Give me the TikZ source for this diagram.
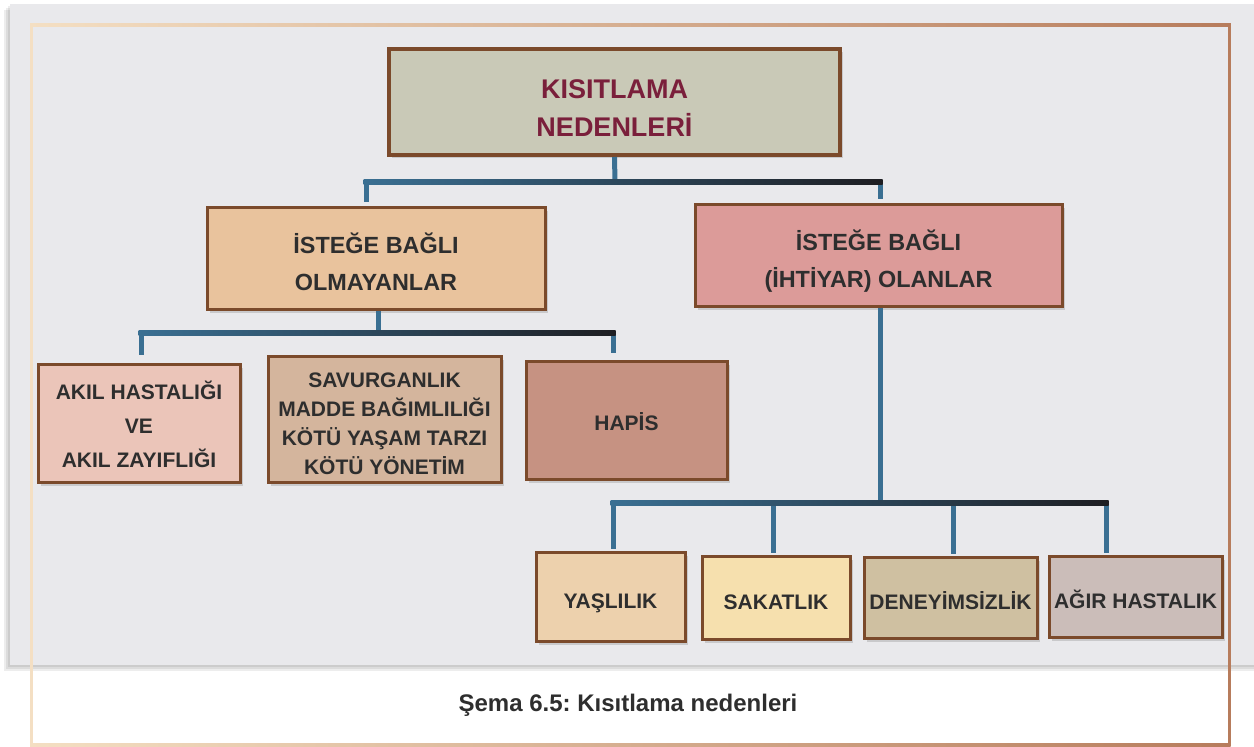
\documentclass[tikz,border=0pt]{standalone}
\usepackage{fontspec}
\setmainfont{Liberation Sans}
\frenchspacing
\usetikzlibrary{calc,shadows}
\definecolor{panel}{HTML}{E9E9EC}
\definecolor{bark}{HTML}{7B4A2B}
\definecolor{ink}{HTML}{2E2E2E}
\definecolor{wine}{HTML}{7A1F3B}
\definecolor{wire}{HTML}{3A6F92}
\definecolor{wiredark}{HTML}{1E1E22}
\definecolor{framelight}{HTML}{F4DFC3}
\definecolor{framedark}{HTML}{B77C5C}
\definecolor{sage}{HTML}{C9C9B7}
\definecolor{apricot}{HTML}{E9C39D}
\definecolor{rose}{HTML}{DC9B99}
\definecolor{blush}{HTML}{EBC5B9}
\definecolor{tan}{HTML}{D4B59D}
\definecolor{clay}{HTML}{C69282}
\definecolor{sand}{HTML}{EDD1AD}
\definecolor{cream}{HTML}{F6E0AE}
\definecolor{khaki}{HTML}{CFC0A1}
\definecolor{taupe}{HTML}{CBBDB9}
\tikzset{
  box/.style={rectangle, draw=bark, line width=1.5pt, inner sep=0pt, align=center, text=ink,
              font=\fontsize{10.5}{17}\selectfont\bfseries,
              drop shadow={shadow xshift=1.5pt, shadow yshift=-1.5pt, opacity=0.3}},
  rootbox/.style={box, fill=sage, line width=2pt, text=wine, text height=34.7pt, text depth=0pt,
                  font=\fontsize{13.5}{19}\selectfont\bfseries},
  midbox/.style={box, text height=31.4pt, text depth=0pt, font=\fontsize{11.7}{18.5}\selectfont\bfseries},
  leafbox/.style={box},
  onebox/.style={box, text height=11.5pt, text depth=0pt},
  wire/.style={draw=wire, line width=2.5pt},
  bar/.style={left color=wire, right color=wiredark},
  caption/.style={font=\fontsize{12}{14}\selectfont\bfseries, text=ink}
}
\begin{document}
\begin{tikzpicture}[x=0.5pt, y=-0.5pt]
 \useasboundingbox (0,0) rectangle (1254,747);
 \fill[white] (0,0) rectangle (1254,747);
 % panel with soft shadow
 \foreach \d in {6,4,2} \fill[black, opacity=0.07] (10-\d,4+\d) rectangle (1254,665+\d);
 \fill[panel] (10,4) rectangle (1254,665);
 % frame
 \shade[left color=framelight, right color=framedark] (30,23.5) rectangle (1230.5,26.5);
 \shade[left color=framelight, right color=framedark] (30,743.5) rectangle (1230.5,746.5);
 \fill[framelight] (29.5,23.5) rectangle (32.5,746.5);
 \fill[framedark] (1227.5,23.5) rectangle (1230.5,746.5);

 \node[rootbox, minimum width=225.5pt, minimum height=53pt] (root) at (614.5,102) {KISITLAMA\\NEDENLERİ};
 \node[midbox, fill=apricot, minimum width=169pt, minimum height=51pt] (nonopt) at (376,259) {İSTEĞE BAĞLI\\OLMAYANLAR};
 \node[midbox, fill=rose, minimum width=183.5pt, minimum height=51pt] (opt) at (878.5,256) {İSTEĞE BAĞLI\\(İHTİYAR) OLANLAR};

 \node[leafbox, fill=blush, minimum width=101pt, minimum height=59pt] (mind) at (139,424) {AKIL HASTALIĞI\\VE\\AKIL ZAYIFLIĞI};
 \node[leafbox, fill=tan, minimum width=116.5pt, minimum height=63pt, text height=55pt, text depth=0pt, font=\fontsize{10.5}{14.5}\selectfont\bfseries] (waste) at (384.5,420) {SAVURGANLIK\\MADDE BAĞIMLILIĞI\\KÖTÜ YAŞAM TARZI\\KÖTÜ YÖNETİM};
 \node[onebox, fill=clay, minimum width=100.5pt, minimum height=59pt, text height=9.5pt] (jail) at (626.5,421) {HAPİS};

 \node[onebox, fill=sand, minimum width=74.5pt, minimum height=44.5pt] (age) at (610.5,597.5) {YAŞLILIK};
 \node[onebox, fill=cream, minimum width=74pt, minimum height=41.5pt] (disab) at (776,598.5) {SAKATLIK};
 \node[onebox, fill=khaki, minimum width=86.5pt, minimum height=40.5pt] (inexp) at (950.5,598.5) {DENEYİMSİZLİK};
 \node[onebox, fill=taupe, minimum width=86.5pt, minimum height=40.5pt] (ill) at (1135.5,597.5) {AĞIR HASTALIK};

 \node[caption] (cap) at (628,705) {Şema 6.5: Kısıtlama nedenleri};

 % junctions
 \coordinate (j1) at (615,182); \coordinate (j1l) at (366,182); \coordinate (j1r) at (880,182);
 \coordinate (j2) at (378,333); \coordinate (j2l) at (141,333); \coordinate (j2r) at (613,333);
 \coordinate (j3) at (880,503); \coordinate (j3l) at (613,503); \coordinate (j3r) at (1106,503);

 \draw[wire] (root.south) -- (j1);
 \draw[wire] (j1l) -- ($(nonopt.north -| j1l)+(0,-4)$);
 \draw[wire] (j1r) -- ($(opt.north -| j1r)+(0,-4)$);
 \shade[bar] ($(j1l)+(-2.5,-2.5)$) rectangle ($(j1r)+(2.5,2.5)$);

 \draw[wire] (nonopt.south -| j2) -- (j2);
 \draw[wire] (j2l) -- ($(mind.north -| j2l)+(0,-8)$);
 \draw[wire] (j2r) -- ($(jail.north -| j2r)+(0,-7)$);
 \shade[bar] ($(j2l)+(-2.5,-2.5)$) rectangle ($(j2r)+(2.5,2.5)$);

 \draw[wire] (opt.south -| j3) -- (j3);
 \draw[wire] (j3l) -- ($(age.north -| j3l)+(0,-2)$);
 \draw[wire] (j3l -| disab.north) ++(-3,0) -- ($(disab.north)+(-3,-2)$);
 \draw[wire] (j3l -| inexp.north) ++(2.5,0) -- ($(inexp.north)+(2.5,-2)$);
 \draw[wire] (j3r) -- ($(ill.north -| j3r)+(0,-2)$);
 \shade[bar] ($(j3l)+(-2.5,-2.5)$) rectangle ($(j3r)+(2.5,2.5)$);
\end{tikzpicture}
\end{document}
